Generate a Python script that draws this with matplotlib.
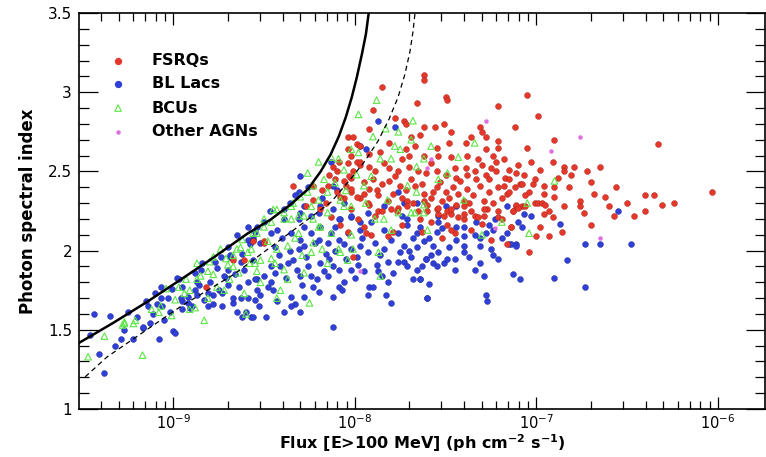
"""
Photon spectral index vs. flux (E>100 MeV) for FSRQs, BL Lacs, BCUs and other AGNs,
with the detection-limit curves (solid and dashed).
"""
import matplotlib
matplotlib.use('Agg')
import matplotlib.pyplot as plt
from matplotlib.ticker import FixedLocator, LogLocator, NullFormatter, MultipleLocator
import numpy as np

plt.rcParams['font.family'] = ['DejaVu Sans']
plt.rcParams['mathtext.fontset'] = 'dejavusans'

RED   = "#e5372a"
BLUE  = "#2f3fd8"
GREEN = "#5ce646"
PINK  = "#e070e0"

# ── data: log10 flux (ph cm^-2 s^-1) and photon index ──
fsrq_logf = [
    -7.62, -7.62, -7.85, -7.50, -7.49, -7.66, -7.21, -7.90, -7.78, -7.73, -7.72, -7.62, -7.56, -7.51, -7.47,
    -7.31, -7.30, -8.04, -7.69, -7.64, -7.81, -7.99, -7.97, -7.36, -7.28, -7.21, -7.21, -7.48, -7.39, -7.55,
    -7.67, -7.72, -7.28, -7.86, -7.92, -7.70, -7.62, -7.54, -7.47, -7.38, -7.32, -7.24, -7.22, -8.02, -8.09,
    -8.04, -7.99, -7.97, -7.92, -7.89, -7.81, -7.76, -7.70, -7.65, -7.61, -7.55, -7.50, -7.44, -7.39, -7.38,
    -7.34, -7.30, -7.28, -7.26, -7.22, -7.17, -8.14, -8.11, -8.06, -8.02, -7.95, -7.90, -7.85, -7.81, -7.75,
    -7.72, -7.67, -7.62, -7.58, -7.55, -7.50, -7.48, -7.46, -7.43, -7.40, -7.38, -7.35, -7.31, -7.29, -7.26,
    -7.21, -7.19, -7.16, -8.23, -8.15, -8.10, -8.06, -8.02, -7.97, -7.92, -7.87, -7.82, -7.76, -7.71, -7.65,
    -7.60, -7.54, -7.49, -7.43, -7.36, -7.29, -7.21,
    -7.05, -6.99, -7.12, -6.33, -7.10, -7.03, -6.91, -6.98, -6.85, -6.79, -6.85, -6.81, -6.72, -7.15, -7.11,
    -7.07, -7.15, -7.09, -7.08, -7.02, -6.96, -6.90, -6.82, -6.56, -7.18, -7.12, -7.15, -7.04, -6.96, -6.90,
    -6.68, -6.40, -6.35, -6.03, -7.01, -6.99, -6.97, -6.95, -6.76, -6.76, -6.31, -6.60, -7.11, -7.13, -7.08,
    -7.06, -6.93, -6.96, -6.91, -6.57, -6.40, -7.14, -7.00, -6.93, -7.04,
    -7.55, -7.47, -7.49, -7.40, -7.34, -7.40, -7.27, -7.21, -7.19, -7.14, -7.11, -7.13, -7.10, -7.45, -8.02,
    -7.87, -7.85, -7.80, -7.77, -7.71, -7.68, -7.62, -7.60, -7.54, -7.51, -7.47, -7.40, -7.32, -7.29, -7.47,
    -7.95, -7.82, -7.79, -7.91, -8.04, -8.08, -8.50, -8.56,
    -8.34, -8.01, -8.04, -8.03, -8.01, -7.97, -8.12, -8.10, -8.05, -8.02, -8.08, -7.99, -7.93, -7.92, -8.23,
    -8.19, -8.13, -7.92, -8.82, -8.67, -8.61, -8.01, -7.94, -8.50,
    -7.84, -7.78, -7.74, -7.69, -7.58, -7.53, -7.45, -7.42, -7.33, -7.25, -7.18, -7.88, -7.79, -7.74, -7.63,
    -7.57, -7.52, -7.44, -7.37, -7.24, -7.06, -7.01, -6.88, -6.70, -6.62, -6.85, -7.30, -7.58, -7.64, -7.95,
    -8.18, -8.27, -8.16, -7.98, -7.89, -7.74, -7.63, -7.52, -7.36, -7.25, -7.16, -6.98, -6.86, -6.74, -6.50,
    -6.46, -6.24, -6.65, -6.70, -6.90, -7.05,
]
fsrq_idx = [
    3.11, 3.08, 3.03, 2.97, 2.95, 2.93, 2.91, 2.89, 2.84, 2.82, 2.80, 2.78, 2.78, 2.80, 2.75,
    2.78, 2.75, 2.72, 2.72, 2.73, 2.68, 2.67, 2.66, 2.72, 2.72, 2.69, 2.65, 2.68, 2.68, 2.65,
    2.66, 2.64, 2.64, 2.62, 2.61, 2.60, 2.60, 2.60, 2.59, 2.60, 2.58, 2.60, 2.56, 2.60, 2.56,
    2.55, 2.56, 2.54, 2.53, 2.50, 2.52, 2.50, 2.53, 2.50, 2.49, 2.50, 2.48, 2.46, 2.52, 2.48,
    2.50, 2.54, 2.48, 2.45, 2.50, 2.46, 2.48, 2.45, 2.44, 2.46, 2.43, 2.45, 2.42, 2.44, 2.41,
    2.38, 2.41, 2.36, 2.33, 2.40, 2.37, 2.33, 2.40, 2.36, 2.31, 2.39, 2.35, 2.41, 2.31, 2.37,
    2.40, 2.33, 2.36, 2.41, 2.41, 2.37, 2.33, 2.37, 2.33, 2.29, 2.35, 2.31, 2.27, 2.31, 2.25,
    2.25, 2.23, 2.25, 2.21, 2.25, 2.22, 2.25,
    2.98, 2.85, 2.78, 2.67, 2.54, 2.56, 2.56, 2.51, 2.53, 2.53, 2.50, 2.48, 2.50, 2.51, 2.49,
    2.48, 2.45, 2.42, 2.42, 2.42, 2.41, 2.40, 2.40, 2.40, 2.41, 2.40, 2.37, 2.37, 2.36, 2.34,
    2.36, 2.35, 2.35, 2.37, 2.30, 2.30, 2.30, 2.29, 2.31, 2.28, 2.29, 2.28, 2.28, 2.25, 2.28,
    2.28, 2.25, 2.23, 2.21, 2.22, 2.25, 2.15, 2.09, 2.09, 1.99,
    2.26, 2.23, 2.16, 2.20, 2.22, 2.28, 2.26, 2.21, 2.20, 2.15, 2.29, 2.25, 2.27, 2.11, 2.26,
    2.25, 2.25, 2.26, 2.25, 2.28, 2.30, 2.31, 2.29, 2.27, 2.22, 2.26, 2.23, 2.21, 2.26, 2.13,
    2.15, 2.09, 2.12, 2.10, 2.12, 2.16, 2.06, 2.06,
    2.41, 2.72, 2.64, 2.47, 2.50, 2.56, 2.53, 2.50, 2.41, 2.39, 2.34, 2.34, 2.30, 2.39, 2.32,
    2.26, 2.21, 2.77, 1.77, 1.94, 1.94, 1.96, 2.11, 2.05,
    2.55, 2.47, 2.58, 2.45, 2.55, 2.43, 2.52, 2.44, 2.45, 2.52, 2.58, 2.38, 2.36, 2.33, 2.42,
    2.37, 2.31, 2.29, 2.30, 2.30, 2.35, 2.45, 2.46, 2.43, 2.34, 2.28, 2.17, 2.18, 2.20, 2.36,
    2.38, 2.28, 2.30, 2.20, 2.22, 2.16, 2.12, 2.08, 2.13, 2.07, 2.04, 2.15, 2.12, 2.24, 2.30,
    2.22, 2.30, 2.53, 2.16, 2.70, 2.65,
]

bll_logf = [
    -9.35, -9.41, -9.38, -9.46, -9.29, -9.25, -9.22, -9.17, -9.15, -9.14, -9.09, -9.08, -9.03, -9.00, -8.95,
    -8.92, -8.91, -8.88, -8.86, -8.83, -8.81, -8.78, -8.75, -8.74, -8.71, -8.69, -8.67, -8.65, -8.63, -8.59,
    -8.59, -8.57, -8.55, -8.54, -8.76, -8.84, -8.88, -8.98, -8.95, -8.87, -9.07, -9.02,
    -9.17, -9.13, -9.06, -9.07, -8.99, -8.97, -8.96, -8.95, -8.92, -8.90, -8.87, -8.85, -8.81, -8.78, -8.73,
    -8.72, -8.70, -8.67, -8.62, -8.59, -8.60, -8.59, -8.56, -8.55, -8.54, -8.56, -8.70, -8.69, -8.63,
    -8.56, -8.46, -8.39, -8.35, -8.31, -8.30, -8.31, -8.28, -8.34, -8.26, -8.24, -8.30, -8.29, -8.35, -8.33,
    -8.39, -8.30, -8.49, -8.56, -8.53, -8.45, -8.46, -8.44, -8.46, -8.50, -8.48, -8.19, -8.17, -8.12, -8.15,
    -8.12, -8.12, -8.09, -8.06, -8.02, -7.98, -8.00, -7.95, -7.93, -7.92, -7.90, -7.88, -7.87, -7.85, -7.83,
    -7.82, -7.80, -7.76, -7.82, -7.75, -7.73, -7.71, -7.69, -7.68, -7.66, -7.64, -7.60, -7.61, -7.68, -7.66,
    -7.73, -7.80, -7.84, -7.89, -7.93, -7.97, -8.02, -8.06, -8.04, -8.09, -8.15, -8.20, -8.24, -8.19, -8.13,
    -8.11, -7.97, -7.91, -7.84, -7.76, -7.71, -7.66, -7.62, -7.73, -7.84, -7.93, -8.02, -8.08, -8.24, -8.30,
    -8.39, -8.43, -8.52, -8.54, -8.19, -8.12, -8.35, -8.28, -8.23, -8.20, -8.09, -8.07,
    -7.59, -7.55, -7.54, -7.54, -7.50, -7.44, -7.61, -7.58, -7.57, -7.55, -7.54, -7.51, -7.49, -7.45, -7.45,
    -7.44, -7.40, -7.40, -7.40, -7.44, -7.40, -7.34, -7.31, -7.31, -7.28, -7.26, -7.24, -7.23, -7.25, -7.24,
    -7.34, -7.31, -7.29, -7.64, -7.59, -7.60, -7.28, -7.27, -7.16, -7.15, -7.11, -7.10, -7.07, -7.03, -7.13,
    -7.09, -7.16, -6.87, -6.83, -6.90, -6.73, -6.73, -6.65, -6.48, -6.55, -7.08, -7.14, -7.11,
    -7.87, -7.78, -7.97, -8.13, -7.94, -8.30, -8.31, -8.28, -8.20, -8.12, -8.06, -8.02, -7.97, -8.09, -7.76,
    -7.66, -7.71, -7.64,
    -8.70, -8.65, -8.62, -8.58, -8.55, -8.50, -8.47, -8.44, -8.42, -8.40, -8.37, -8.36, -8.33, -8.28, -8.26,
    -8.22, -8.18, -8.16, -8.10, -8.05, -8.80, -8.77, -8.73, -8.66, -8.64, -8.61, -8.52, -8.43, -8.41, -8.38,
    -8.36, -8.32, -8.27, -8.21, -8.14, -8.11, -7.99, -7.96, -7.86, -7.79, -7.74, -7.70, -7.63, -7.57, -7.52,
    -7.48, -7.37, -7.33, -7.21, -7.19, -9.01, -9.05, -9.11, -9.20, -9.27, -9.32, -9.44, -9.10,
]
bll_idx = [
    1.59, 1.35, 1.23, 1.47, 1.44, 1.61, 1.44, 1.51, 1.68, 1.65, 1.66, 1.44, 1.70, 1.49, 1.68,
    1.71, 1.64, 1.75, 1.78, 1.69, 1.65, 1.72, 1.75, 1.96, 1.83, 1.96, 1.67, 1.61, 1.70, 2.15,
    1.80, 1.58, 1.69, 1.82, 1.89, 1.92, 1.86, 1.83, 1.77, 1.80, 1.77, 1.61,
    1.52, 1.54, 1.65, 1.70, 1.48, 1.82, 1.70, 1.63, 1.67, 1.65, 1.72, 1.88, 1.73, 1.66, 1.65,
    1.84, 1.78, 1.70, 1.58, 1.70, 1.61, 2.07, 1.94, 1.82, 1.75, 2.08, 1.88, 1.97, 1.93,
    2.07, 2.11, 2.26, 2.11, 2.20, 2.07, 2.01, 2.03, 1.94, 1.90, 1.84, 1.84, 1.78, 1.71, 1.66,
    1.61, 1.61, 1.58, 1.58, 1.65, 1.75, 1.80, 1.86, 1.90, 1.84, 1.77, 1.92, 1.87, 1.90, 1.84,
    1.71, 1.52, 1.88, 1.80, 1.88, 1.91, 1.83, 1.87, 1.72, 1.77, 1.77, 1.91, 1.87, 1.84, 1.72,
    1.80, 1.67, 1.93, 1.93, 1.99, 1.93, 1.90, 1.96, 1.82, 1.88, 1.82, 1.70, 1.95, 2.08, 2.02,
    2.03, 2.07, 2.01, 2.05, 1.99, 2.03, 2.01, 2.04, 2.11, 2.07, 2.05, 2.07, 2.11, 2.15, 2.11,
    2.15, 2.18, 2.18, 2.13, 2.11, 2.16, 2.11, 2.06, 2.30, 2.28, 2.24, 2.21, 2.20, 2.22, 2.24,
    2.20, 2.13, 2.05, 2.15, 2.28, 2.26, 1.65, 1.71, 1.77, 1.74, 1.77, 1.75,
    2.08, 2.12, 2.18, 2.22, 2.28, 2.28, 1.95, 1.97, 1.92, 1.90, 1.99, 1.92, 1.95, 1.95, 1.88,
    2.07, 2.03, 1.99, 2.09, 2.15, 2.15, 2.10, 2.08, 2.03, 2.11, 2.16, 2.13, 2.20, 2.01, 1.97,
    1.88, 1.92, 1.84, 1.82, 1.79, 1.70, 1.72, 1.68, 2.11, 2.04, 2.04, 2.18, 2.23, 2.22, 1.85,
    1.82, 2.28, 2.17, 1.94, 1.83, 1.77, 2.04, 2.04, 2.04, 2.25, 2.15, 2.04, 2.03,
    2.82, 2.78, 2.66, 2.56, 2.64, 2.47, 2.37, 2.28, 2.24, 2.41, 2.30, 2.22, 2.13, 2.20, 2.37,
    2.30, 2.20, 2.15,
    2.02, 2.10, 1.98, 2.04, 2.12, 2.18, 2.25, 2.02, 1.97, 2.08, 1.92, 2.30, 2.35, 2.15, 2.40,
    2.05, 2.33, 1.98, 2.38, 1.95, 1.80, 1.93, 1.73, 1.85, 1.77, 1.88, 1.72, 1.68, 1.90, 1.83,
    2.00, 1.88, 1.96, 1.82, 1.95, 2.00, 1.96, 2.08, 1.97, 1.86, 2.22, 2.00, 1.90, 2.03, 2.14,
    2.02, 1.96, 2.18, 1.95, 2.08, 1.76, 1.56, 1.60, 1.58, 1.50, 1.40, 1.60, 1.73,
]

bcu_logf = [
    -9.47, -9.38, -9.28, -9.27, -9.21, -9.17, -9.08, -9.01, -9.27, -9.22, -8.94, -8.91, -8.88, -8.83, -8.93,
    -8.87, -8.85, -8.81, -8.78, -8.76, -8.74, -8.72, -8.70, -8.69, -8.67, -8.65, -8.63, -8.61, -8.60, -8.59,
    -8.57, -8.56, -8.55, -8.78, -8.87, -9.07, -8.91, -8.81,
    -8.52, -8.54, -8.50, -8.52, -8.43, -8.41, -8.37, -8.37, -8.34, -8.35, -8.31, -8.28, -8.25, -8.24, -8.23,
    -8.20, -8.18, -8.13, -8.15, -8.09, -8.08, -8.06, -8.04, -8.01, -8.02, -7.87, -7.86, -7.89, -7.84, -7.62,
    -7.67, -8.54, -8.46, -8.43, -8.39, -8.45, -8.28, -8.39,
    -7.88, -7.98, -7.68, -7.83, -7.90, -7.76, -7.78, -8.02, -7.98, -8.09, -8.06, -8.13, -8.20, -8.26, -8.17,
    -8.23, -8.30, -8.35, -8.20, -8.15, -8.08, -8.02, -7.95, -7.91, -7.86, -7.80, -7.75, -7.69, -7.66, -7.62,
    -7.71, -7.66, -7.69, -7.62, -8.43, -8.46, -8.50, -8.39, -8.31, -8.24, -8.23, -8.15, -8.19, -7.82, -7.76,
    -7.80,
    -7.58, -7.34, -7.43, -7.49, -7.54, -7.40, -6.90, -7.05, -7.04, -7.30, -7.60, -7.19,
    -8.48, -8.44, -8.33, -8.29, -8.26, -8.11, -8.05, -7.99, -7.94, -8.71, -8.64, -8.58, -8.62, -8.99, -9.04,
    -8.97, -9.12, -8.80, -8.67,
]
bcu_idx = [
    1.33, 1.46, 1.53, 1.55, 1.56, 1.34, 1.61, 1.59, 1.54, 1.54, 1.73, 1.75, 1.64, 1.56, 1.82,
    1.82, 1.84, 1.87, 1.85, 1.77, 2.01, 1.75, 1.91, 1.82, 1.90, 2.01, 2.02, 1.73, 1.60, 1.99,
    2.01, 2.11, 1.92, 1.96, 1.92, 1.65, 1.63, 1.70,
    1.94, 2.11, 2.20, 1.80, 1.70, 1.75, 1.82, 2.03, 2.30, 2.20, 2.11, 2.22, 1.67, 1.99, 2.05,
    2.15, 2.01, 2.11, 1.92, 2.01, 1.99, 2.28, 1.94, 2.01, 2.10, 1.99, 1.84, 2.20, 2.20, 2.29,
    2.24, 1.87, 1.95, 2.01, 2.24, 2.26, 1.86, 1.88,
    2.95, 2.86, 2.82, 2.77, 2.72, 2.75, 2.66, 2.64, 2.62, 2.58, 2.51, 2.59, 2.56, 2.49, 2.45,
    2.41, 2.34, 2.28, 2.32, 2.37, 2.32, 2.28, 2.41, 2.47, 2.58, 2.58, 2.64, 2.70, 2.53, 2.58,
    2.41, 2.37, 2.24, 2.24, 2.26, 2.18, 2.15, 2.20, 2.22, 2.28, 2.20, 2.24, 2.15, 2.32, 2.24,
    2.13,
    2.66, 2.68, 2.59, 2.49, 2.45, 2.32, 2.44, 2.30, 2.11, 2.10, 2.13, 2.18,
    2.06, 1.92, 2.08, 1.97, 2.37, 2.43, 2.38, 2.48, 2.30, 1.95, 1.86, 1.92, 2.07, 1.69, 1.76,
    1.77, 1.63, 1.93, 1.97,
]

agn_logf = [-6.76, -6.92, -6.65, -7.28, -7.58, -7.97, -7.23, -7.60]
agn_idx  = [2.72, 2.63, 2.08, 2.82, 2.58, 1.87, 2.14, 2.52]

# detection-limit curves
lim_logf  = [-9.519, -9.331, -9.144, -8.961, -8.779, -8.591, -8.464, -8.354, -8.260,
             -8.188, -8.133, -8.088, -8.050, -8.017, -7.989, -7.961, -7.939, -7.923]
lim_idx   = [1.418, 1.544, 1.677, 1.816, 1.956, 2.108, 2.196, 2.291, 2.386,
             2.500, 2.608, 2.722, 2.842, 2.968, 3.095, 3.241, 3.367, 3.506]
lim2_logf = [-9.486, -9.365, -8.961, -8.669, -8.260, -8.133, -8.039, -7.950,
             -7.873, -7.812, -7.762, -7.724, -7.696, -7.680, -7.669]
lim2_idx  = [1.203, 1.329, 1.646, 1.848, 2.196, 2.304, 2.430, 2.557,
             2.690, 2.829, 2.968, 3.114, 3.259, 3.380, 3.494]

fig = plt.figure(figsize=(7.66, 4.57), dpi=100, facecolor='white')
ax = fig.add_axes([79/766, 48/457, 686/766, 396/457])

ax.scatter(10**np.array(bll_logf), bll_idx, s=18, color=BLUE, edgecolors='#1d2790',
           linewidths=0.3, zorder=3)
ax.scatter(10**np.array(fsrq_logf), fsrq_idx, s=18, color=RED, edgecolors='#a02318',
           linewidths=0.3, zorder=4)
ax.scatter(10**np.array(bcu_logf), bcu_idx, s=22, marker='^', facecolors='none',
           edgecolors=GREEN, linewidths=0.8, zorder=5)
ax.scatter(10**np.array(agn_logf), agn_idx, s=5, color=PINK, zorder=6)

ax.plot(10**np.array(lim_logf), lim_idx, color='black', lw=1.8, zorder=7)
ax.plot(10**np.array(lim2_logf), lim2_idx, color='black', lw=0.9, ls=(0, (4, 3)), zorder=7)

ax.set_xscale('log')
ax.set_xlim(10**-9.52, 10**-5.74)
ax.set_ylim(1, 3.5)

ax.xaxis.set_major_locator(FixedLocator([1e-9, 1e-8, 1e-7, 1e-6]))
ax.xaxis.set_minor_locator(LogLocator(base=10, subs=np.arange(2, 10)))
ax.xaxis.set_minor_formatter(NullFormatter())
ax.set_xticklabels([r'$10^{-9}$', r'$10^{-8}$', r'$10^{-7}$', r'$10^{-6}$'])
ax.yaxis.set_major_locator(FixedLocator([1, 1.5, 2, 2.5, 3, 3.5]))
ax.yaxis.set_minor_locator(MultipleLocator(0.1))
ax.set_yticklabels(['1', '1.5', '2', '2.5', '3', '3.5'])

ax.tick_params(which='both', direction='in', top=True, right=True, labelsize=11, width=0.9)
ax.tick_params(axis='x', which='major', length=8.5, pad=3, labelsize=10.5)
ax.tick_params(axis='x', which='minor', length=5.5)
ax.tick_params(axis='y', which='major', length=14, pad=5)
ax.tick_params(axis='y', which='minor', length=7)
for sp in ax.spines.values():
    sp.set_linewidth(1.2)

ax.set_xlabel(r'Flux [E>100 MeV] (ph cm$^{\mathbf{-2}}$ s$^{\mathbf{-1}}$)',
              fontsize=11.5, fontweight='bold', labelpad=0.5)
ax.set_ylabel('Photon spectral index', fontsize=12, fontweight='bold', labelpad=8)

# legend, drawn by hand at the reference position
leg = [("FSRQs", 'o', RED), ("BL Lacs", 'o', BLUE), ("BCUs", '^', GREEN), ("Other AGNs", '.', PINK)]
ys = [0.879, 0.821, 0.760, 0.700]
for (lab, mk, c), yy in zip(leg, ys):
    if mk == '^':
        ax.scatter([0.057], [yy], s=22, marker='^', facecolors='none', edgecolors=c,
                   linewidths=0.8, transform=ax.transAxes)
    elif mk == '.':
        ax.scatter([0.057], [yy], s=5, color=c, transform=ax.transAxes)
    else:
        ax.scatter([0.057], [yy], s=18, color=c, transform=ax.transAxes)
    ax.text(0.106, yy, lab, transform=ax.transAxes, fontsize=11.5, fontweight='bold',
            va='center', ha='left')

fig.savefig('out.png', dpi=100, facecolor='white')
